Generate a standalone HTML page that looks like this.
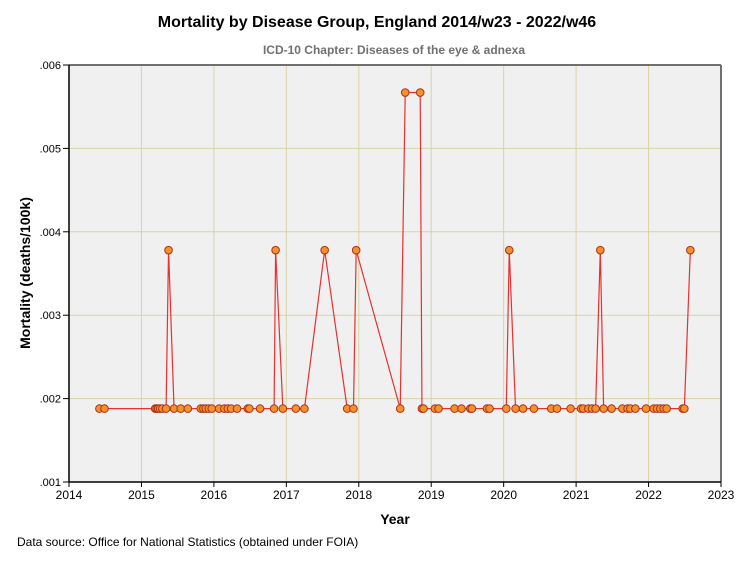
<!DOCTYPE html>
<html><head><meta charset="utf-8"><style>
body{margin:0;background:#fff;}
svg text{font-family:"Liberation Sans",Arial,sans-serif;}
</style></head><body>
<svg width="754" height="564" xmlns="http://www.w3.org/2000/svg">
<text x="377" y="27" text-anchor="middle" font-size="16" font-weight="bold">Mortality by Disease Group, England 2014/w23 - 2022/w46</text>
<text x="394" y="54" text-anchor="middle" font-size="12" font-weight="bold" fill="#707070">ICD-10 Chapter: Diseases of the eye &amp; adnexa</text>
<rect x="69" y="65" width="652" height="417" fill="#f0f0f0"/>
<g id="grid"></g>
<g id="axes"></g>
<polyline id="series-line" fill="none" stroke="#e83030" stroke-width="1.2"/>
<g id="points"></g>
<line x1="69" y1="65" x2="721" y2="65" stroke="#707070" stroke-width="2"/>
<line x1="721" y1="65" x2="721" y2="482" stroke="#707070" stroke-width="2"/>
<line x1="69" y1="65" x2="69" y2="482" stroke="#000" stroke-width="1.5"/>
<line x1="69" y1="482" x2="721" y2="482" stroke="#000" stroke-width="1.5"/>
<text x="395" y="524" text-anchor="middle" font-size="14" font-weight="bold">Year</text>
<text transform="translate(30,273) rotate(-90)" text-anchor="middle" font-size="14" font-weight="bold">Mortality (deaths/100k)</text>
<text x="17" y="546" font-size="12">Data source: Office for National Statistics (obtained under FOIA)</text>
</svg>
<script>
const years = [2014.42,2014.49,2015.19,2015.21,2015.23,2015.257,2015.289,2015.34,2015.374,2015.45,2015.543,2015.64,2015.819,2015.855,2015.888,2015.93,2015.971,2016.072,2016.145,2016.192,2016.238,2016.32,2016.468,2016.49,2016.638,2016.831,2016.852,2016.952,2017.131,2017.25,2017.529,2017.84,2017.927,2017.964,2018.572,2018.641,2018.848,2018.872,2018.894,2019.051,2019.101,2019.322,2019.418,2019.539,2019.562,2019.769,2019.805,2020.036,2020.077,2020.164,2020.267,2020.418,2020.657,2020.736,2020.924,2021.068,2021.099,2021.169,2021.22,2021.269,2021.334,2021.38,2021.49,2021.638,2021.711,2021.749,2021.818,2021.965,2022.07,2022.117,2022.163,2022.209,2022.25,2022.471,2022.494,2022.577];
const values = [0.00188,0.00188,0.00188,0.00188,0.00188,0.00188,0.00188,0.00188,0.00378,0.00188,0.00188,0.00188,0.00188,0.00188,0.00188,0.00188,0.00188,0.00188,0.00188,0.00188,0.00188,0.00188,0.00188,0.00188,0.00188,0.00188,0.00378,0.00188,0.00188,0.00188,0.00378,0.00188,0.00188,0.00378,0.00188,0.00567,0.00567,0.00188,0.00188,0.00188,0.00188,0.00188,0.00188,0.00188,0.00188,0.00188,0.00188,0.00188,0.00378,0.00188,0.00188,0.00188,0.00188,0.00188,0.00188,0.00188,0.00188,0.00188,0.00188,0.00188,0.00378,0.00188,0.00188,0.00188,0.00188,0.00188,0.00188,0.00188,0.00188,0.00188,0.00188,0.00188,0.00188,0.00188,0.00188,0.00378];
const xTicks = [2014,2015,2016,2017,2018,2019,2020,2021,2022,2023];
const yTicks = [0.001,0.002,0.003,0.004,0.005,0.006];
const yTickLabels = [".001",".002",".003",".004",".005",".006"];

const NS="http://www.w3.org/2000/svg";
function xs(v){return 69+(v-2014)*(652/9);}
function ys(v){return 482-(v-0.001)*(417/0.005);}
function mk(tag,attrs,parent){const e=document.createElementNS(NS,tag);for(const k in attrs)e.setAttribute(k,attrs[k]);parent.appendChild(e);return e;}
const grid=document.getElementById('grid'),axes=document.getElementById('axes'),pts=document.getElementById('points');
xTicks.forEach((t,i)=>{
  if(i>0&&i<xTicks.length-1){const g=mk('line',{x1:xs(t),x2:xs(t),y1:65,y2:482,stroke:'#d8d4a8','stroke-width':1},grid);
  
  }
  const tk=mk('line',{x1:xs(t),x2:xs(t),y1:482,y2:487,stroke:'#000'},axes);
  
  
  const tx=mk('text',{x:xs(t),y:499,'text-anchor':'middle','font-size':12},axes);tx.textContent=t;
  
  
});
yTicks.forEach((t,i)=>{
  if(i>0&&i<yTicks.length-1){const g=mk('line',{x1:69,x2:721,y1:ys(t),y2:ys(t),stroke:'#d8d4a8','stroke-width':1},grid);
  
  }
  const tk=mk('line',{x1:63,x2:69,y1:ys(t),y2:ys(t),stroke:'#000'},axes);
  
  
  const tx=mk('text',{x:61,y:ys(t)+4,'text-anchor':'end','font-size':11},axes);tx.textContent=yTickLabels[i];
  
  
});
document.getElementById('series-line').setAttribute('points',years.map((y,i)=>xs(y)+','+ys(values[i])).join(' '));
years.forEach((y,i)=>{
  const c=mk('circle',{cx:xs(y),cy:ys(values[i]),r:3.8,fill:'#f5902a',stroke:'#a83018','stroke-width':1},pts);
  
  
});
</script>
</body></html>
